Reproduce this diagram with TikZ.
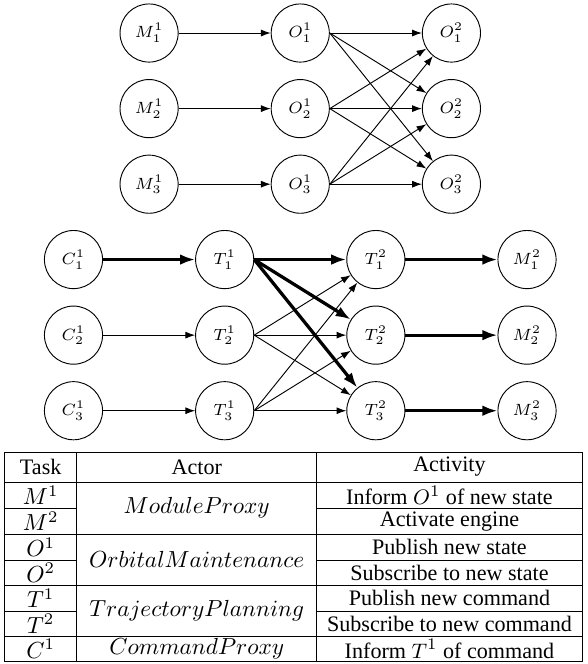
\documentclass[tikz,border=0pt]{standalone}
\usepackage[no-math]{fontspec}
\setmainfont{Liberation Serif}
\usepackage{tikz}
\usetikzlibrary{arrows.meta, positioning}
\tikzstyle{arrow} = [-{Latex[length=4.2pt,width=3pt]}]
\tikzstyle{heavy} = [line width=1.4pt, -{Latex[length=6.5pt,width=4.6pt]}]
\tikzstyle{task} = [circle, draw, minimum size=25pt, inner sep=0pt, font=\fontsize{7}{8}\selectfont]
\tikzstyle{cell} = [font=\fontsize{9.5}{11}\selectfont]
\tikzstyle{actor} = [font=\fontsize{10}{12}\selectfont]

\begin{document}
\begin{tikzpicture}[x=1pt, y=1pt, on grid, node distance=32.5pt and 65pt]
    \useasboundingbox (0,0) rectangle (252.4,-285.5);

    % state graph
    \node (m11) [task] at (64.1,-14.2) {$M^1_1$};
    \node (m12) [task, below=of m11] {$M^1_2$};
    \node (m13) [task, below=of m12] {$M^1_3$};
    \node (o11) [task, right=of m11] {$O^1_1$};
    \node (o12) [task, right=of m12] {$O^1_2$};
    \node (o13) [task, right=of m13] {$O^1_3$};
    \node (o21) [task, right=of o11] {$O^2_1$};
    \node (o22) [task, right=of o12] {$O^2_2$};
    \node (o23) [task, right=of o13] {$O^2_3$};

    \draw [arrow] (m11) -- (o11);
    \draw [arrow] (m12) -- (o12);
    \draw [arrow] (m13) -- (o13);
    \draw [arrow] (o11.east) -- (o21);
    \draw [arrow] (o11.east) -- (o22);
    \draw [arrow] (o11.east) -- (o23);
    \draw [arrow] (o12.east) -- (o21);
    \draw [arrow] (o12.east) -- (o22);
    \draw [arrow] (o12.east) -- (o23);
    \draw [arrow] (o13.east) -- (o21);
    \draw [arrow] (o13.east) -- (o22);
    \draw [arrow] (o13.east) -- (o23);

    % command graph
    \node (c1) [task] at (31.6,-111.6) {$C^1_1$};
    \node (c2) [task, below=of c1] {$C^1_2$};
    \node (c3) [task, below=of c2] {$C^1_3$};
    \node (t11) [task, right=of c1] {$T^1_1$};
    \node (t12) [task, right=of c2] {$T^1_2$};
    \node (t13) [task, right=of c3] {$T^1_3$};
    \node (t21) [task, right=of t11] {$T^2_1$};
    \node (t22) [task, right=of t12] {$T^2_2$};
    \node (t23) [task, right=of t13] {$T^2_3$};
    \node (m21) [task, right=of t21] {$M^2_1$};
    \node (m22) [task, right=of t22] {$M^2_2$};
    \node (m23) [task, right=of t23] {$M^2_3$};

    \draw [heavy] (c1) -- (t11);
    \draw [arrow] (c2) -- (t12);
    \draw [arrow] (c3) -- (t13);
    \draw [heavy] (t11.east) -- (t21);
    \draw [heavy] (t11.east) -- (t22);
    \draw [heavy] (t11.east) -- (t23);
    \draw [arrow] (t12.east) -- (t21);
    \draw [arrow] (t12.east) -- (t22);
    \draw [arrow] (t12.east) -- (t23);
    \draw [arrow] (t13.east) -- (t21);
    \draw [arrow] (t13.east) -- (t22);
    \draw [arrow] (t13.east) -- (t23);
    \draw [heavy] (t21) -- (m21);
    \draw [heavy] (t22) -- (m22);
    \draw [heavy] (t23) -- (m23);

    % table
    \draw (2,-194.7) rectangle (250.3,-284.2);
    \draw (33,-194.7) -- (33,-284.2);
    \draw (136.2,-194.7) -- (136.2,-284.2);
    \foreach \y in {207.3,229.6,251.6,273.5}
        \draw (2,-\y) -- (250.3,-\y);
    \foreach \y in {218.7,240.8,262.7}
        \draw (2,-\y) -- (33,-\y) (136.2,-\y) -- (250.3,-\y);

    \node (taskhd) [cell] at (17.5,-200.8) {Task};
    \node (actorhd) [cell] at (84.6,-200.8) {Actor};
    \node (activityhd) [cell] at (193.25,-200.8) {Activity};

    \node (mtask1) [actor] at (17.5,-213) {$M^1$};
    \node (mtask2) [actor] at (17.5,-224.15) {$M^2$};
    \node (otask1) [actor] at (17.5,-235.2) {$O^1$};
    \node (otask2) [actor] at (17.5,-246.2) {$O^2$};
    \node (ttask1) [actor] at (17.5,-257.15) {$T^1$};
    \node (ttask2) [actor] at (17.5,-268.1) {$T^2$};
    \node (ctask1) [actor] at (17.5,-278.85) {$C^1$};

    \node (mactor) [actor] at (84.6,-218.45) {$ModuleProxy$};
    \node (oactor) [actor] at (84.6,-240.6) {$OrbitalMaintenance$};
    \node (tactor) [actor] at (84.6,-262.55) {$TrajectoryPlanning$};
    \node (cactor) [actor] at (84.6,-278.85) {$CommandProxy$};

    \node (mact1) [cell] at (193.25,-213) {Inform $O^1$ of new state};
    \node (mact2) [cell] at (193.25,-224.15) {Activate engine};
    \node (oact1) [cell] at (193.25,-235.2) {Publish new state};
    \node (oact2) [cell] at (193.25,-246.2) {Subscribe to new state};
    \node (tact1) [cell] at (193.25,-257.15) {Publish new command};
    \node (tact2) [cell] at (193.25,-268.1) {Subscribe to new command};
    \node (cact1) [cell] at (193.25,-278.85) {Inform $T^1$ of command};
\end{tikzpicture}
\end{document}
